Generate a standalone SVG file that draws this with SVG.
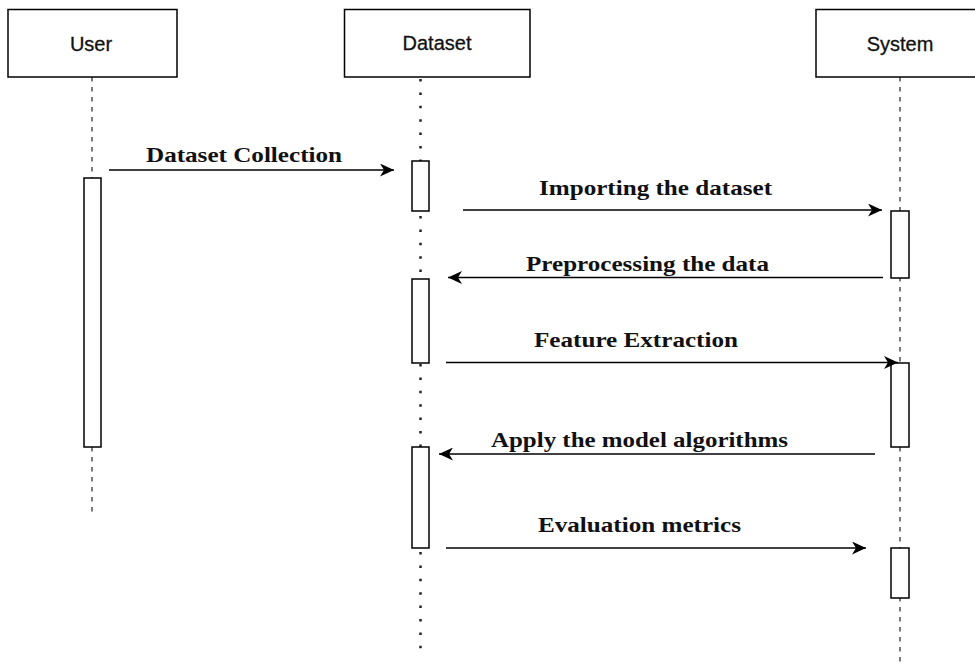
<svg xmlns="http://www.w3.org/2000/svg" width="975" height="664" viewBox="0 0 975 664">
<style>
.box{fill:#fff;stroke:#000;stroke-width:1.5}
.act{fill:#fff;stroke:#000;stroke-width:1.5}
.hdr{font-family:"Liberation Sans",Arial,sans-serif;font-size:20px;fill:#111;stroke:#111;stroke-width:0.3;text-anchor:middle}
.lbl{font-family:"Liberation Serif","Times New Roman",serif;font-size:22px;font-weight:bold;fill:#111}
.dash{stroke:#333;stroke-width:1.3;stroke-dasharray:4.5 5.5;fill:none}
.dot{stroke:#222;stroke-width:2.5;stroke-dasharray:2.5 10.9;fill:none}
.msg{stroke:#000;stroke-width:1.5;fill:none;marker-end:url(#arr)}
</style>
<defs>
<marker id="arr" markerUnits="userSpaceOnUse" viewBox="0 0 14 13" markerWidth="14" markerHeight="13" refX="14" refY="6.5" orient="auto">
<path d="M0,0 L14,6.5 L0,13 L4,6.5 Z" fill="#000"/>
</marker>
</defs>
<rect width="975" height="664" fill="#fff"/>
<g id="lifelines">
<line class="dash" x1="92" y1="77" x2="92" y2="516"/>
<line class="dot" x1="420.5" y1="79" x2="420.5" y2="161"/>
<line class="dot" x1="420.5" y1="216" x2="420.5" y2="279"/>
<line class="dot" x1="420.5" y1="364" x2="420.5" y2="447"/>
<line class="dot" x1="420.5" y1="552" x2="420.5" y2="652"/>
<line class="dash" x1="900" y1="77" x2="900" y2="664"/>
</g>
<g id="user">
<rect class="box" x="8" y="9.5" width="169" height="67.5"/>
<text class="hdr" x="91" y="51">User</text>
<rect class="act" x="84" y="178" width="17" height="269"/>
</g>
<g id="dataset">
<rect class="box" x="344.5" y="9.5" width="185.5" height="67.5"/>
<text class="hdr" x="437" y="50">Dataset</text>
<rect class="act" x="412" y="161" width="17" height="50"/>
<rect class="act" x="412" y="279" width="17" height="84"/>
<rect class="act" x="412" y="447" width="17" height="101"/>
</g>
<g id="system">
<rect class="box" x="816" y="9.5" width="175" height="67.5"/>
<text class="hdr" x="900" y="51">System</text>
<rect class="act" x="891" y="211" width="18" height="67"/>
<rect class="act" x="891" y="363" width="18" height="84"/>
<rect class="act" x="891" y="548" width="18" height="50"/>
</g>
<g id="connectors">
<line class="msg" x1="109" y1="170" x2="394" y2="170"/>
<line class="msg" x1="463" y1="210" x2="882" y2="210"/>
<line class="msg" x1="883" y1="277.5" x2="448" y2="277.5"/>
<line class="msg" x1="446" y1="362.5" x2="898" y2="362.5"/>
<line class="msg" x1="875" y1="454" x2="439" y2="454"/>
<line class="msg" x1="446" y1="548" x2="866" y2="548"/>
<text class="lbl" x="146" y="162" textLength="196" lengthAdjust="spacingAndGlyphs">Dataset Collection</text>
<text class="lbl" x="539" y="195" textLength="233" lengthAdjust="spacingAndGlyphs">Importing the dataset</text>
<text class="lbl" x="526" y="271" textLength="243" lengthAdjust="spacingAndGlyphs">Preprocessing the data</text>
<text class="lbl" x="534" y="347" textLength="204" lengthAdjust="spacingAndGlyphs">Feature Extraction</text>
<text class="lbl" x="491" y="447" textLength="297" lengthAdjust="spacingAndGlyphs">Apply the model algorithms</text>
<text class="lbl" x="538" y="532" textLength="203" lengthAdjust="spacingAndGlyphs">Evaluation metrics</text>
</g>
</svg>
